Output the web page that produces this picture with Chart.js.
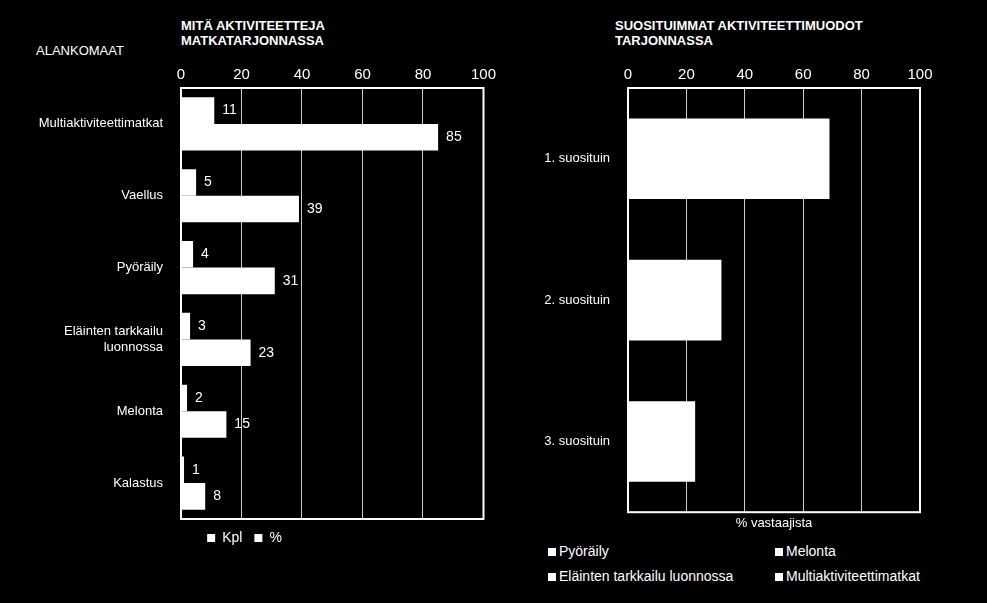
<!DOCTYPE html>
<html><head><meta charset="utf-8">
<script src="https://cdn.jsdelivr.net/npm/chart.js@4"></script>
<style>
body{margin:0;background:#000;width:987px;height:603px;overflow:hidden;position:relative;font-family:"Liberation Sans",Arial,sans-serif;color:#fff}
.t{position:absolute;font-weight:bold;font-size:13px;line-height:15px}
.c{position:absolute}
.lg{position:absolute;font-size:14px}
.lg span{display:inline-block;width:8px;height:8px;background:#fff;margin-right:3px}
</style></head><body>
<div class="t" style="left:181px;top:18px">MITÄ AKTIVITEETTEJA<br>MATKATARJONNASSA</div>
<div style="position:absolute;left:36px;top:43px;font-size:13px">ALANKOMAAT</div>
<div class="t" style="left:615px;top:18px">SUOSITUIMMAT AKTIVITEETTIMUODOT<br>TARJONNASSA</div>
<div class="c" style="left:0;top:55px;width:500px;height:500px"><canvas id="a"></canvas></div>
<div class="c" style="left:500px;top:55px;width:440px;height:475px"><canvas id="b"></canvas></div>
<div class="lg" style="left:548px;top:543px"><span></span>Pyöräily</div>
<div class="lg" style="left:775px;top:543px"><span></span>Melonta</div>
<div class="lg" style="left:548px;top:568px"><span></span>Eläinten tarkkailu luonnossa</div>
<div class="lg" style="left:775px;top:568px"><span></span>Multiaktiviteettimatkat</div>
<script>
const categories=["Multiaktiviteettimatkat","Vaellus","Pyöräily",["Eläinten tarkkailu","luonnossa"],"Melonta","Kalastus"];
const kpl=[11,5,4,3,2,1];
const pct=[85,39,31,23,15,8];
const rankCats=["1. suosituin","2. suosituin","3. suosituin"];
const rankVals=[69,32,23];
const xTicks=[0,20,40,60,80,100];
const F='"Liberation Sans",Arial,sans-serif';
Chart.defaults.font.family=F;
Chart.defaults.color='#fff';
const border={id:'border',afterDraw(c){const a=c.chartArea,x=c.ctx;x.save();x.strokeStyle='#fff';x.lineWidth=2;x.strokeRect(a.left,a.top,a.right-a.left,a.bottom-a.top);x.restore();}};
const labels={id:'lbl',afterDatasetsDraw(c){if(!c.options.plugins.lbl)return;const x=c.ctx;x.save();x.fillStyle='#fff';x.font='14px '+F;x.textBaseline='middle';
c.data.datasets.forEach((d,i)=>c.getDatasetMeta(i).data.forEach((e,j)=>x.fillText(d.data[j],e.x+8,e.y)));x.restore();}};
function xs(){return {min:0,max:100,position:'top',afterBuildTicks(s){s.ticks=xTicks.map(v=>({value:v}));},
 ticks:{font:{size:15},padding:4},grid:{color:'#ccc',lineWidth:1,drawTicks:false},border:{display:false},afterFit(s){s.height=33;}};}
new Chart(document.getElementById('a'),{type:'bar',
 data:{labels:categories,datasets:[{label:'Kpl',data:kpl,backgroundColor:'#fff'},{label:'%',data:pct,backgroundColor:'#fff'}]},
 options:{indexAxis:'y',responsive:true,maintainAspectRatio:false,animation:false,
 datasets:{bar:{categoryPercentage:0.74,barPercentage:1}},
 layout:{padding:{right:11,bottom:0}},
 scales:{x:xs(),y:{ticks:{font:{size:13},padding:10},grid:{display:false},border:{display:false},afterFit(s){s.width=181;}}},
 plugins:{lbl:true,tooltip:{enabled:false},legend:{position:'bottom',labels:{boxWidth:8,boxHeight:8,padding:12,font:{size:14},color:'#fff'}}}},
 plugins:[border,labels]});
new Chart(document.getElementById('b'),{type:'bar',
 data:{labels:rankCats,datasets:[{label:'% vastaajista',data:rankVals,backgroundColor:'#fff'}]},
 options:{indexAxis:'y',responsive:true,maintainAspectRatio:false,animation:false,
 datasets:{bar:{categoryPercentage:0.57,barPercentage:1}},
 layout:{padding:{right:20}},
 scales:{x:xs(),y:{ticks:{font:{size:13},padding:10},grid:{display:false},border:{display:false},afterFit(s){s.width=128;}}},
 plugins:{tooltip:{enabled:false},legend:{display:false}}},
 plugins:[border,{id:'ttl',afterDraw(c){const x=c.ctx,a=c.chartArea;x.save();x.fillStyle='#fff';x.font='13px '+F;x.textAlign='center';x.fillText('% vastaajista',(a.left+a.right)/2,a.bottom+15);x.restore();}},
 {id:'pad',beforeLayout(c){}}]});
</script></body></html>
